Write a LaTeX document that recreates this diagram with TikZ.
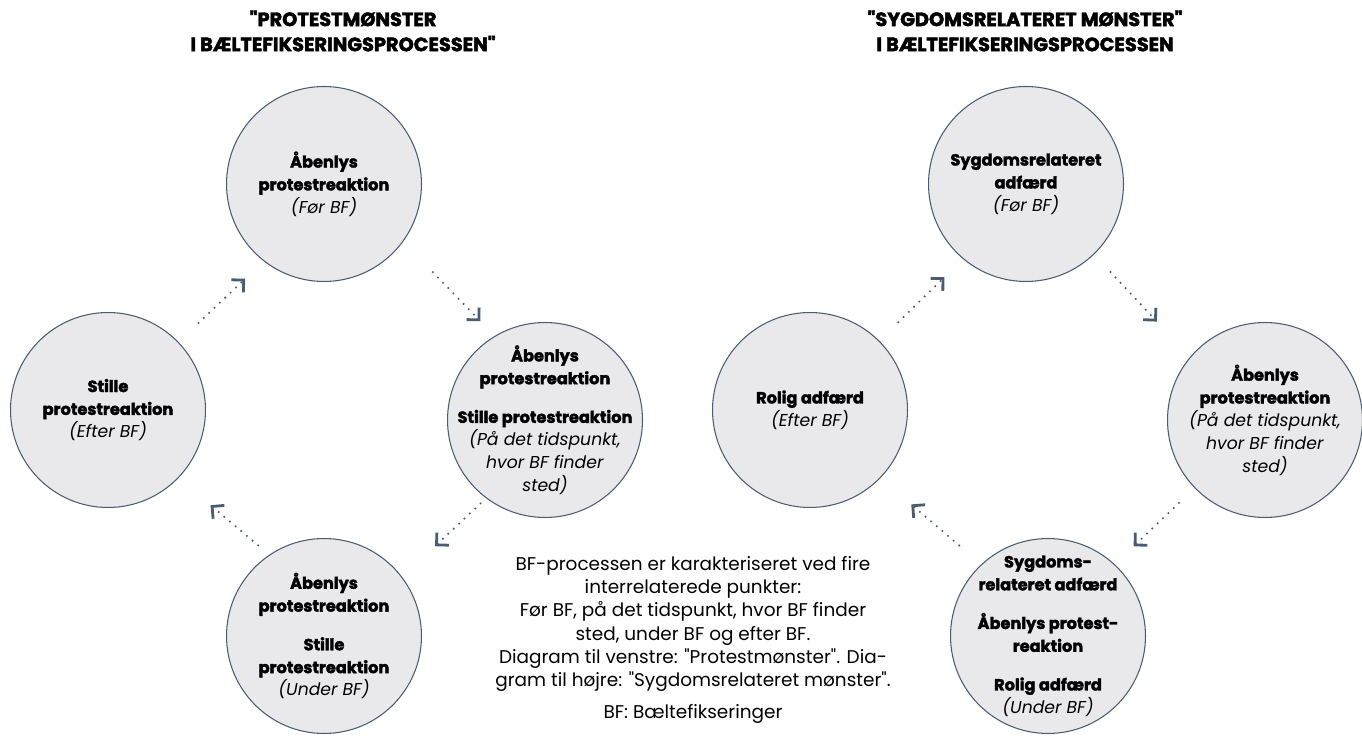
\documentclass[tikz,border=0pt]{standalone}
\usepackage{fontspec}
\setmainfont{Poppins}[Ligatures=TeXOff, BoldFeatures={FakeBold=2.2}]
\usetikzlibrary{arrows.meta, positioning}

\definecolor{ring}{HTML}{4B5B70}
\definecolor{disc}{HTML}{E9E9EB}

\newcommand\bfline[1]{{\fontsize{9.2}{13}\selectfont\bfseries #1}}

\tikzset{
  stage/.style={circle, draw=ring, line width=0.6pt, fill=disc, minimum size=3.9cm,
    inner sep=-0.8cm, align=center, font=\fontsize{9.8}{13}\selectfont},
  flow/.style={draw=ring, line width=1.3pt, dash pattern=on 0pt off 4.2pt, line cap=round,
    -{Straight Barb[angle=90:7pt, line width=1.6pt]}},
  gap/.style 2 args={shorten <=#1, shorten >=#2},
  head/.style={font=\fontsize{11}{14.3}\selectfont\bfseries, align=center},
  note/.style={font=\fontsize{10.5}{13.2}\selectfont, align=center}
}

\begin{document}
\begin{tikzpicture}[x=0.02cm, y=-0.02cm]
	\useasboundingbox (0,0) rectangle (1362,742);
	
	% Headers
	\node[head] (hp) at (343,31) {"PROTESTMØNSTER\\I BÆLTEFIKSERINGSPROCESSEN"};
	\node[head] (hs) at (1025,31) {"SYGDOMSRELATERET MØNSTER"\\I BÆLTEFIKSERINGSPROCESSEN};
	
	% Protest pattern
	\node[stage] (p1) at (324,184) {\bfline{Åbenlys}\\\bfline{protestreaktion}\\\textit{(Før BF)}};
	\node[stage] (p2) at (545,420) {\bfline{Åbenlys}\\\bfline{protestreaktion}\\[9pt]\bfline{Stille protestreaktion}\\\textit{(På det tidspunkt,}\\\textit{hvor BF finder}\\\textit{sted)}};
	\node[stage] (p3) at (324,636) {\bfline{Åbenlys}\\\bfline{protestreaktion}\\[9pt]\bfline{Stille}\\\bfline{protestreaktion}\\\textit{(Under BF)}};
	\node[stage] (p4) at (108,410) {\bfline{Stille}\\\bfline{protestreaktion}\\\textit{(Efter BF)}};
	
	\draw[flow, gap={0.55cm}{0.51cm}] (p4.44) -- (p1.232);
	\draw[flow, gap={0.85cm}{0.41cm}] (p1.-36) -- (p2.121);
	\draw[flow, gap={0.15cm}{0.90cm}] (p2.-127) -- (p3.37);
	\draw[flow, gap={0.29cm}{0.84cm}] (p3.124) -- (p4.-44);
	
	% Illness-related pattern
	\node[stage] (s1) at (1026,184) {\bfline{Sygdomsrelateret}\\\bfline{adfærd}\\\textit{(Før BF)}};
	\node[stage] (s2) at (1265,420) {\bfline{Åbenlys}\\\bfline{protestreaktion}\\\textit{(På det tidspunkt,}\\\textit{hvor BF finder}\\\textit{sted)}};
	\node[stage] (s3) at (1048,636) {\bfline{Sygdoms-}\\\bfline{relateret adfærd}\\[9pt]\bfline{Åbenlys protest-}\\\bfline{reaktion}\\[9pt]\bfline{Rolig adfærd}\\\textit{(Under BF)}};
	\node[stage] (s4) at (810,410) {\bfline{Rolig adfærd}\\\textit{(Efter BF)}};
	
	\draw[flow, gap={0.53cm}{0.52cm}] (s4.45) -- (s1.230);
	\draw[flow, gap={0.48cm}{0.97cm}] (s1.-46) -- (s2.140);
	\draw[flow, gap={0.43cm}{0.52cm}] (s2.-136) -- (s3.47);
	\draw[flow, gap={0.58cm}{0.81cm}] (s3.133) -- (s4.-44);
	
	% Explanation
	\node[note] (txt) at (693,624) {BF-processen er karakteriseret ved fire\\interrelaterede punkter:\\Før BF, på det tidspunkt, hvor BF finder\\sted, under BF og efter BF.\\Diagram til venstre: "Protestmønster". Dia-\\gram til højre: "Sygdomsrelateret mønster".};
	\node[note, below=0pt of txt] (abbr) {BF: Bæltefikseringer};
\end{tikzpicture}
\end{document}
